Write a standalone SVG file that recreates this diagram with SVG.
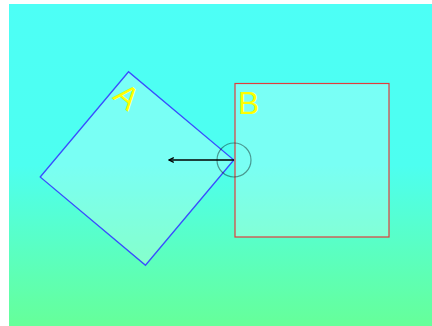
<svg xmlns="http://www.w3.org/2000/svg" width="432" height="326" viewBox="0 0 432 326">
  <defs>
    <linearGradient id="bg" x1="0" y1="0" x2="0" y2="1">
      <stop offset="0" stop-color="#4dfff6"/>
      <stop offset="0.5" stop-color="#4dfff0"/>
      <stop offset="1" stop-color="#66ff99"/>
    </linearGradient>
    <marker id="arr" viewBox="0 0 10 10" refX="9" refY="5" markerWidth="6" markerHeight="6" orient="auto" markerUnits="userSpaceOnUse">
      <path d="M1,1 L9,5 L1,9" fill="none" stroke="#000" stroke-width="2"/>
    </marker>
  </defs>
  <style>
    .shape { fill: #ffffff; fill-opacity: 0.25; }
    .lbl { font-family: "Liberation Sans", Arial, sans-serif; font-size: 32px; fill: #ffff00; }
  </style>
  <rect x="9" y="4" width="423" height="322" fill="url(#bg)"/>
  <g id="A" transform="translate(137,168.5) rotate(40)">
    <rect class="shape" x="-68.7" y="-68.7" width="137.4" height="137.4" stroke="#3a4dff" stroke-width="1.3"/>
    <text class="lbl" x="-64.7" y="-37.7">A</text>
  </g>
  <g id="B">
    <rect class="shape" x="235" y="83.5" width="154" height="153.5" stroke="#e03c3c" stroke-width="1.2"/>
    <text class="lbl" x="238" y="114">B</text>
  </g>
  <g id="connectors">
    <line x1="234" y1="160" x2="169" y2="160" stroke="#000" stroke-width="1.3" marker-end="url(#arr)"/>
    <circle cx="234" cy="160" r="17" fill="none" stroke="#000" stroke-opacity="0.4" stroke-width="1.2"/>
  </g>
</svg>
